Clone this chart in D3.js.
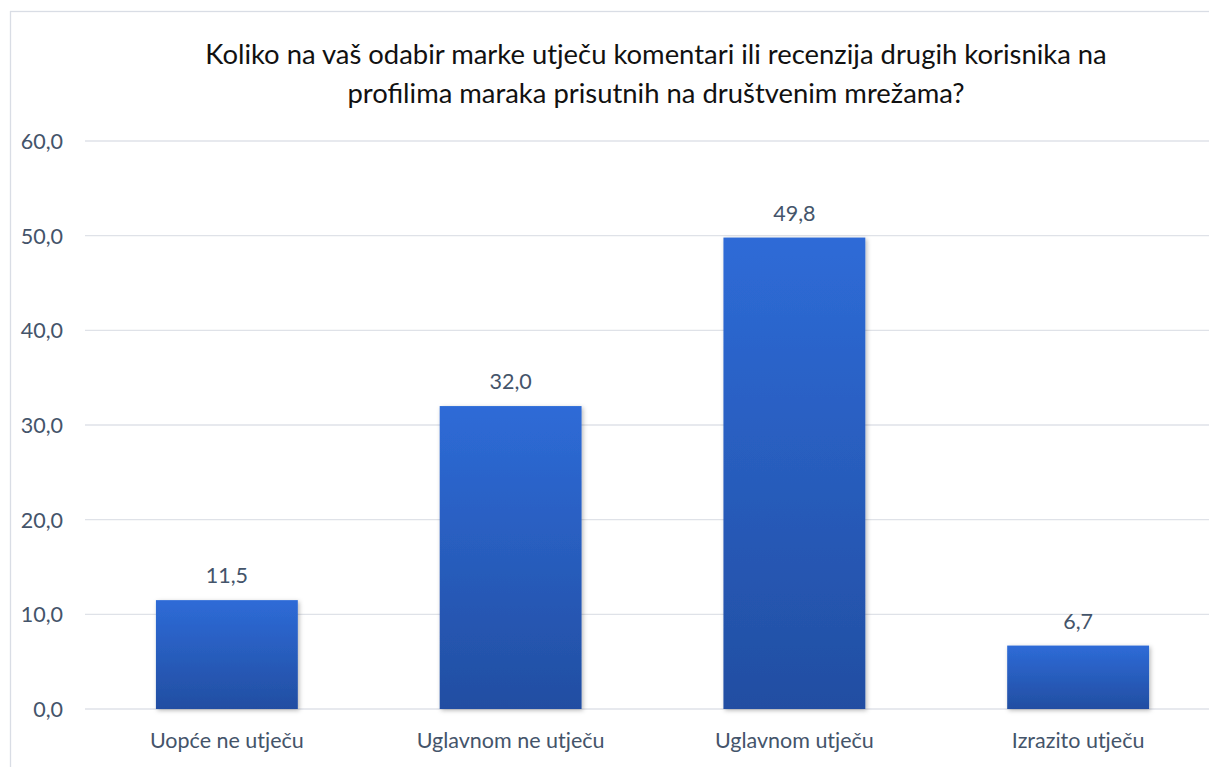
<!DOCTYPE html>
<html>
<head>
<meta charset="utf-8">
<script src="https://cdn.jsdelivr.net/npm/d3@7"></script>
<style>
  html, body { margin: 0; padding: 0; background: #fff; }
  svg { display: block; font-family: "Lato", "Open Sans", sans-serif; }
</style>
</head>
<body>
<svg id="chart" width="1209" height="767"></svg>
<script>
// Survey answers and their shares (%)
const categories = ["Uopće ne utječu", "Uglavnom ne utječu", "Uglavnom utječu", "Izrazito utječu"];
const values = [11.5, 32.0, 49.8, 6.7];
const yTicks = [0, 10, 20, 30, 40, 50, 60];
const titleLines = [
  "Koliko na vaš odabir marke utječu komentari ili recenzija drugih korisnika na",
  "profilima maraka prisutnih na društvenim mrežama?"
];

const fmt = v => d3.format(".1f")(v).replace(".", ",");

const svg = d3.select("#chart");
const W = 1209, H = 767;
const plot = { left: 85, right: 1220, top: 141, bottom: 709 };
const labelSize = "21.5px";
const labelColor = "#44546a";

// Chart area frame
svg.append("rect")
  .attr("x", 10.5).attr("y", 11.5)
  .attr("width", W + 20).attr("height", H + 20)
  .attr("fill", "#fff")
  .attr("stroke", "#d9dde5").attr("stroke-width", 1.3);

const defs = svg.append("defs");
const grad = defs.append("linearGradient")
  .attr("id", "barGrad").attr("x1", 0).attr("y1", 0).attr("x2", 0).attr("y2", 1);
grad.append("stop").attr("offset", "0%").attr("stop-color", "#2e6bd7");
grad.append("stop").attr("offset", "100%").attr("stop-color", "#224ea2");

const shadow = defs.append("filter").attr("id", "barShadow")
  .attr("x", "-10%").attr("y", "-10%").attr("width", "130%").attr("height", "130%");
shadow.append("feDropShadow")
  .attr("dx", 1.5).attr("dy", 1.5).attr("stdDeviation", 2)
  .attr("flood-color", "#000").attr("flood-opacity", 0.28);

const x = d3.scaleBand()
  .domain(categories)
  .range([plot.left, plot.right])
  .paddingInner(0.5).paddingOuter(0.25);

const y = d3.scaleLinear()
  .domain([0, 60])
  .range([plot.bottom, plot.top]);

// Horizontal gridlines
svg.append("g")
  .selectAll("line")
  .data(yTicks)
  .join("line")
  .attr("x1", plot.left).attr("x2", W)
  .attr("y1", d => y(d)).attr("y2", d => y(d))
  .attr("stroke", "#dfe2e8").attr("stroke-width", 1.3);

// Y axis labels
const yAxis = svg.append("g")
  .attr("transform", `translate(${plot.left - 22},0)`)
  .call(d3.axisLeft(y).tickValues(yTicks).tickFormat(fmt).tickSize(0).tickPadding(0));
yAxis.select(".domain").remove();
yAxis.selectAll("text")
  .attr("fill", labelColor)
  .style("font-size", labelSize)
  .style("font-family", "Lato, 'Open Sans', sans-serif")
  .attr("dy", "0.35em");

// Bars
svg.append("g")
  .selectAll("rect")
  .data(values)
  .join("rect")
  .attr("x", (d, i) => x(categories[i]))
  .attr("width", x.bandwidth())
  .attr("y", d => y(d))
  .attr("height", d => y(0) - y(d))
  .attr("fill", "url(#barGrad)")
  .attr("filter", "url(#barShadow)");

// Value labels
svg.append("g")
  .selectAll("text")
  .data(values)
  .join("text")
  .attr("x", (d, i) => x(categories[i]) + x.bandwidth() / 2)
  .attr("y", d => y(d) - 17)
  .attr("text-anchor", "middle")
  .attr("fill", labelColor)
  .style("font-size", labelSize)
  .text(fmt);

// Category labels
const xAxis = svg.append("g")
  .attr("transform", `translate(0,${plot.bottom})`)
  .call(d3.axisBottom(x).tickSize(0).tickPadding(0));
xAxis.select(".domain").remove();
xAxis.selectAll("text")
  .attr("fill", labelColor)
  .attr("y", 39)
  .attr("dy", 0)
  .style("font-size", labelSize)
  .style("font-family", "Lato, 'Open Sans', sans-serif");

// Title, two centred lines; size fitted to the first line's width
const title = svg.append("g");
const tLines = title.selectAll("text")
  .data(titleLines)
  .join("text")
  .attr("x", 656)
  .attr("y", (d, i) => 64 + i * 39)
  .attr("text-anchor", "middle")
  .attr("fill", "#111")
  .style("font-size", "24px")
  .text(d => d);
const w0 = tLines.node().getComputedTextLength();
const fs = 24 * 902 / w0;
tLines.style("font-size", fs + "px");
</script>
</body>
</html>
